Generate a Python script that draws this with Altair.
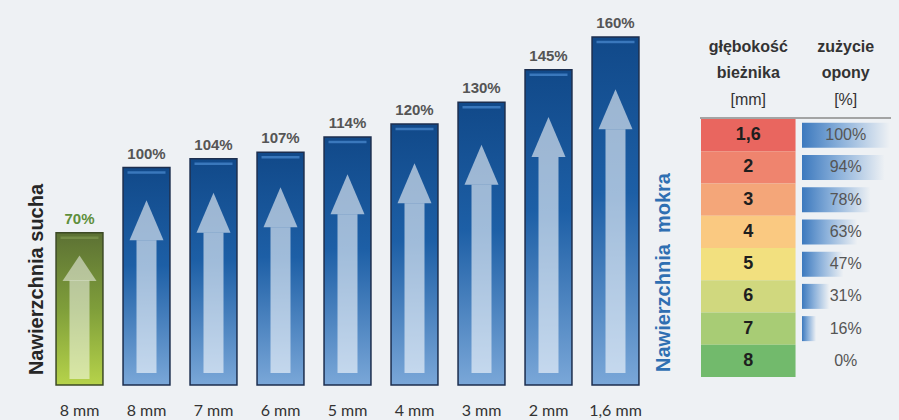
import altair as alt
import pandas as pd

# ---------------- data ----------------
tread_labels = ["8 mm", "8 mm", "7 mm", "6 mm", "5 mm", "4 mm", "3 mm", "2 mm", "1,6 mm"]
braking_pct = [70, 100, 104, 107, 114, 120, 130, 145, 160]
surface = ["sucha", "mokra", "mokra", "mokra", "mokra", "mokra", "mokra", "mokra", "mokra"]

table_depth = ["1,6", "2", "3", "4", "5", "6", "7", "8"]
table_wear = [100, 94, 78, 63, 47, 31, 16, 0]

header_depth = ["głębokość", "bieżnika", "[mm]"]
header_wear = ["zużycie", "opony", "[%]"]

title_dry = "Nawierzchnia sucha"
title_wet = "Nawierzchnia\u00a0 mokra"

# ---------------- styles ----------------
BG = "#eef1f4"
row_colors = ["#e9665f", "#ef846e", "#f4a679", "#fac981", "#f2e07f", "#d0d87e", "#a8cc75", "#72ba6c"]
NARROW = "Liberation Sans Narrow, Arial Narrow, Liberation Sans, Arial"
SANS = "Liberation Sans, Arial"
LABEL_FONT = "Lato, Open Sans, sans-serif"

bars_df = pd.DataFrame({
    "idx": list(range(len(braking_pct))),
    "label": tread_labels,
    "value": braking_pct,
    "surface": surface,
})
bars_df["pct_text"] = [f"{v}%" for v in braking_pct]

tdf = pd.DataFrame({"depth": table_depth, "wear": table_wear})
tdf["wear_text"] = [f"{w}%" for w in table_wear]

hdf = pd.DataFrame({
    "col": ["depth", "wear"],
    "bold": ["\n".join(header_depth[:2]), "\n".join(header_wear[:2])],
    "unit": [header_depth[2], header_wear[2]],
})

# ---------------- scales ----------------
xs = alt.Scale(domain=list(range(len(braking_pct))), range=[46, 649], paddingInner=0.3, paddingOuter=0.15)
ys = alt.Scale(domain=[0, 160], range=[385, 37], nice=False, zero=True)
X = alt.X("idx:O", scale=xs, axis=None)

no_axis = dict(labels=False, ticks=False, domain=False, grid=False)

blue_grad = alt.Gradient(
    gradient="linear", x1=0, y1=0, x2=0, y2=1,
    stops=[alt.GradientStop(offset=0, color="#114989"),
           alt.GradientStop(offset=0.45, color="#1d5fa6"),
           alt.GradientStop(offset=1, color="#7aa7d8")])
green_grad = alt.Gradient(
    gradient="linear", x1=0, y1=0, x2=0, y2=1,
    stops=[alt.GradientStop(offset=0, color="#5c7134"),
           alt.GradientStop(offset=0.5, color="#7f9e3a"),
           alt.GradientStop(offset=1, color="#b6d34a")])

base = alt.Chart(bars_df)
wet = base.transform_filter("datum.surface == 'mokra'")
dry = base.transform_filter("datum.surface == 'sucha'")

# soft halo behind bars
shadow = base.mark_bar(color="#000000", opacity=0.0, stroke="#8f9aab", strokeOpacity=0.22, strokeWidth=8).encode(
    x=X, y=alt.Y("value:Q", scale=ys, axis=None))

blue_bars = wet.mark_bar(color=blue_grad, stroke="#1c2e4e", strokeWidth=1.5).encode(
    x=X,
    y=alt.Y("value:Q", scale=ys,
            axis=alt.Axis(orient="right", title=title_wet, titleX=-236, titleY=272,
                          titleAngle=270, titleAlign="center", titleBaseline="middle",
                          titleFontSize=20, titleFontWeight="bold", titleColor="#2f6fb2",
                          titleFont=SANS, **no_axis)))
green_bars = dry.mark_bar(color=green_grad, stroke="#3c4a25", strokeWidth=1.5).encode(
    x=X,
    y=alt.Y("value:Q", scale=ys,
            axis=alt.Axis(orient="left", title=title_dry, titleX=36, titleY=279,
                          titleAngle=270, titleAlign="center", titleBaseline="middle",
                          titleFontSize=20, titleFontWeight="bold", titleColor="#262626",
                          titleFont=SANS, **no_axis)))

blue_hi = wet.mark_tick(yOffset=5, thickness=2.5, size=38, color="#4b8bd1").encode(
    x=X, y=alt.Y("value:Q", scale=ys, axis=None))
green_hi = dry.mark_tick(yOffset=5, thickness=2.5, size=38, color="#7f9950").encode(
    x=X, y=alt.Y("value:Q", scale=ys, axis=None))

TIP = alt.Y("tip:Q", scale=ys, axis=None)
blue_shaft = wet.transform_calculate(tip="datum.value * 0.85", zero="0").mark_bar(
    width=20, yOffset=40, y2Offset=-12, color="#ffffff", opacity=0.58).encode(
    x=X, y=TIP, y2=alt.Y2("zero:Q"))
blue_head = wet.transform_calculate(tip="datum.value * 0.85").mark_point(
    shape="M0,-1L0.85,1L-0.85,1Z", size=1600, filled=True, color="#ffffff",
    opacity=0.58, strokeWidth=0, yOffset=20).encode(x=X, y=TIP)
green_shaft = dry.transform_calculate(tip="datum.value * 0.85", zero="0").mark_bar(
    width=20, yOffset=25, y2Offset=-6, color="#ffffff", opacity=0.5).encode(
    x=X, y=TIP, y2=alt.Y2("zero:Q"))
green_head = dry.transform_calculate(tip="datum.value * 0.85").mark_point(
    shape="M0,-0.75L1,0.75L-1,0.75Z", size=1156, filled=True, color="#ffffff",
    opacity=0.5, strokeWidth=0, yOffset=12.75).encode(x=X, y=TIP)

pct_labels = base.mark_text(baseline="bottom", dy=-6, font=NARROW, fontSize=15, fontWeight="bold").encode(
    x=X, y=alt.Y("value:Q", scale=ys, axis=None), text="pct_text:N",
    color=alt.Color("surface:N", scale=alt.Scale(domain=["sucha", "mokra"], range=["#5e8f3c", "#555555"]),
                    legend=None))

x_labels = base.transform_calculate(zero="0").mark_text(
    dy=26, font=LABEL_FONT, fontSize=16, color="#333333").encode(
    x=X, y=alt.Y("zero:Q", scale=ys, axis=None), text="label:N")

bar_group = alt.layer(shadow, blue_bars, green_bars, blue_hi, green_hi,
                      blue_shaft, blue_head, green_shaft, green_head,
                      pct_labels, x_labels).resolve_axis(y="independent")

# ---------------- table ----------------
cols = alt.Scale(domain=["depth", "wear"], range=[701, 893], paddingInner=0.03, paddingOuter=0)
rows = alt.Scale(domain=table_depth, range=[119, 377], paddingInner=0, paddingOuter=0)
ROW = alt.Y("depth:N", scale=rows, axis=None)

wear_grad = alt.Gradient(
    gradient="linear", x1=0, y1=0, x2=1, y2=0,
    stops=[alt.GradientStop(offset=0, color="#3c79be"),
           alt.GradientStop(offset=0.45, color="#8db2db"),
           alt.GradientStop(offset=1, color=BG)])
wear_bars = alt.Chart(tdf).mark_bar(size=25, color=wear_grad).encode(
    x=alt.X("wear:Q", scale=alt.Scale(domain=[0, 100], range=[802, 890]), axis=None),
    y=ROW)

tbase = alt.Chart(tdf)
cells = tbase.transform_calculate(col="'depth'").mark_rect().encode(
    x=alt.X("col:N", scale=cols, axis=None), y=ROW,
    color=alt.Color("depth:N", scale=alt.Scale(domain=table_depth, range=row_colors), legend=None))
depth_text = tbase.transform_calculate(col="'depth'").mark_text(
    font=SANS, fontSize=18, fontWeight="bold", color="#1e1e1e").encode(
    x=alt.X("col:N", scale=cols, axis=None), y=ROW, text="depth:N")
wear_text = tbase.transform_calculate(col="'wear'").mark_text(
    font=SANS, fontSize=16, color="#555555").encode(
    x=alt.X("col:N", scale=cols, axis=None), y=ROW, text="wear_text:N")

head_bold = alt.Chart(hdf).mark_text(
    lineBreak="\n", lineHeight=26, baseline="middle", font=NARROW, fontSize=16,
    fontWeight="bold", color="#333333").encode(
    x=alt.X("col:N", scale=cols, axis=None), y=alt.value(47), text="bold:N")
head_unit = alt.Chart(hdf).mark_text(
    baseline="middle", font=NARROW, fontSize=16, color="#333333").encode(
    x=alt.X("col:N", scale=cols, axis=None), y=alt.value(100), text="unit:N")
head_rule = alt.Chart(hdf.head(1)).mark_rule(color="#8a8a8a", strokeWidth=1.5).encode(
    x=alt.value(700), x2=alt.value(891), y=alt.value(118))

table_group = alt.layer(cells, depth_text, wear_text, head_bold, head_unit, head_rule)

chart = alt.layer(bar_group, wear_bars, table_group).resolve_scale(
    x="independent", y="independent", color="independent").properties(
    width=899, height=420, padding=0, background=BG,
    autosize=alt.AutoSizeParams(type="none")).configure_view(stroke=None)

chart.save("out.html", embed_options={"renderer": "svg", "actions": False})
